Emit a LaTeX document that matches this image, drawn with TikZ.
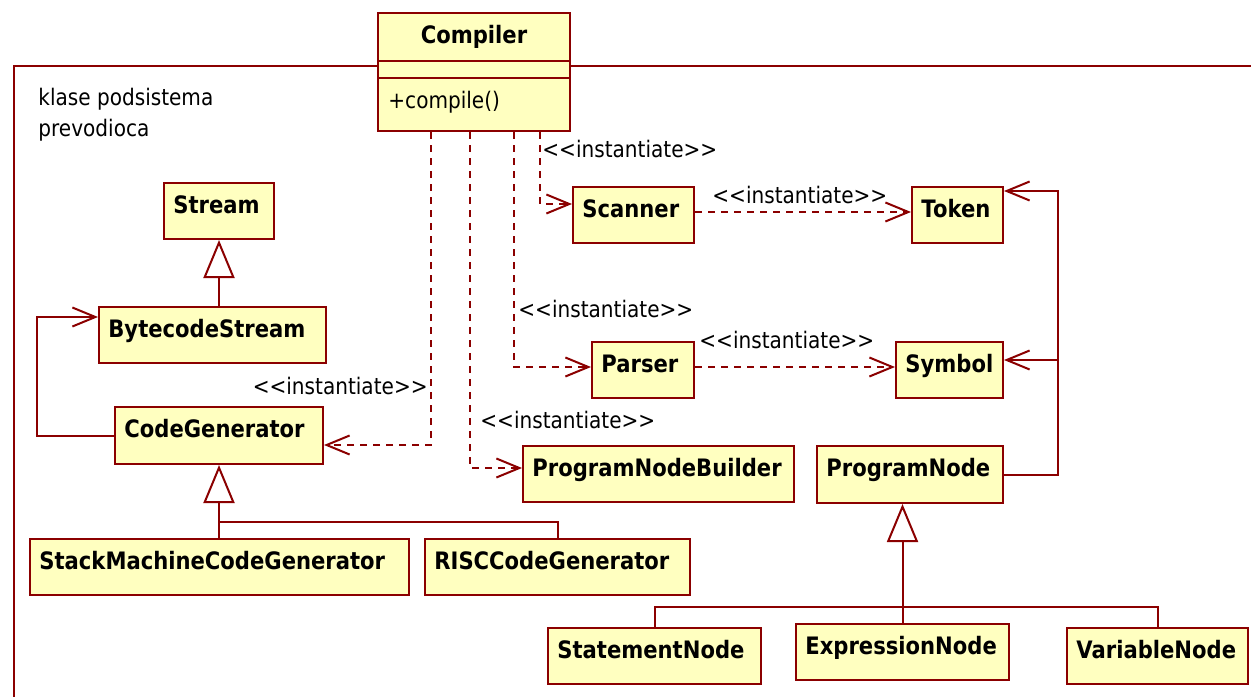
\documentclass[tikz,border=0pt]{standalone}
\usepackage{fontspec}
\setmainfont{DejaVu Sans}[FakeStretch=0.88]
\usetikzlibrary{arrows.meta,calc}
\definecolor{umlred}{HTML}{8B0000}
\definecolor{umlfill}{HTML}{FFFFC0}
\newcommand\instlabel{<\kern0pt<instantiate>\kern0pt>}
\tikzset{
  umlbox/.style={draw=umlred, fill=umlfill, line width=1pt, rectangle, inner sep=0pt, anchor=north west},
  nametext/.style={anchor=base west, inner sep=0pt, font=\fontsize{12}{14}\selectfont\bfseries},
  plaintext/.style={anchor=base west, inner sep=0pt, font=\fontsize{11.4}{13}\selectfont},
  umlline/.style={draw=umlred, line width=1pt},
  depend/.style={umlline, dash pattern=on 3.5pt off 3pt, -{Straight Barb[length=11.5pt,width=9.5pt]}},
  assoc/.style={umlline, -{Straight Barb[length=11.5pt,width=9.5pt]}},
  gen/.style={umlline, -{Triangle[open,length=19pt,width=15.5pt,fill=white]}},
}
\newcommand\ubox[6]{%
  \node[umlbox, minimum width=#4*0.5pt, minimum height=#5*0.5pt] (#1) at (#2,#3) {};
  \node[nametext] (#1-t) at ($(#1.north west)+(10,31)$) {#6};
}
\begin{document}
\begin{tikzpicture}[x=0.5pt,y=-0.5pt]
\useasboundingbox (0,0) rectangle (1251,696);
% package frame
\draw[umlline] (14,700) -- (14,66) -- (1260,66);
\node[plaintext] (pk1) at (38,105) {klase podsistema};
\node[plaintext] (pk2) at (38,136) {prevodioca};
% Compiler
\node[umlbox, minimum width=96pt, minimum height=59pt] (compiler) at (377,12) {};
\node[nametext, anchor=base] (compiler-t) at ($(compiler.north)+(0,31)$) {Compiler};
\draw[umlline] ($(compiler.north west)+(0,49)$) -- ($(compiler.north east)+(0,49)$);
\draw[umlline] ($(compiler.north west)+(0,66)$) -- ($(compiler.north east)+(0,66)$);
\node[plaintext] (compiler-op) at ($(compiler.north west)+(11,96)$) {+compile()};
% classes
\ubox{stream}{163}{182}{110}{56}{Stream}
\ubox{bytecode}{98}{306}{227}{56}{BytecodeStream}
\ubox{codegen}{114}{406}{208}{57}{CodeGenerator}
\ubox{stackm}{29}{538}{379}{56}{StackMachineCodeGenerator}
\ubox{risc}{424}{538}{265}{56}{RISCCodeGenerator}
\ubox{scanner}{572}{186}{121}{56}{Scanner}
\ubox{parser}{591}{341}{102}{56}{Parser}
\ubox{pnb}{522}{445}{271}{56}{ProgramNodeBuilder}
\ubox{token}{911}{186}{91}{56}{Token}
\ubox{symbol}{895}{341}{107}{56}{Symbol}
\ubox{prognode}{816}{445}{186}{57}{ProgramNode}
\ubox{stmt}{547}{627}{213}{56}{StatementNode}
\ubox{expr}{795}{623}{213}{56}{ExpressionNode}
\ubox{var}{1066}{627}{181}{56}{VariableNode}
% dependencies from Compiler
\draw[depend] (compiler.south -| 431,0) |- (codegen.east |- 0,445);
\draw[depend] (compiler.south -| 470,0) |- (pnb.west |- 0,468);
\draw[depend] (compiler.south -| 514,0) |- (parser.west |- 0,367);
\draw[depend] (compiler.south -| 540,0) |- (scanner.west |- 0,204);
\draw[depend] (scanner.east |- 0,212) -- (token.west |- 0,212);
\draw[depend] (parser.east |- 0,367) -- (symbol.west |- 0,367);
\node[plaintext] (l1) at (542,157) {\instlabel};
\node[plaintext] (l2) at (518,317) {\instlabel};
\node[plaintext] (l3) at (480,428) {\instlabel};
\node[plaintext, anchor=base east] (l4) at (428,394) {\instlabel};
\node[plaintext] (l5) at (712,203) {\instlabel};
\node[plaintext] (l6) at (699,348) {\instlabel};
% associations
\draw[assoc] (prognode.east |- 0,475) -| (1058,191) -- (token.east |- 0,191);
\draw[assoc] (1058,360) -- (symbol.east |- 0,360);
\draw[assoc] (codegen.west) -| (37,317) -- (bytecode.west |- 0,317);
% generalizations
\draw[gen] (bytecode.north -| stream.south) -- (stream.south);
\draw[gen] (stackm.north -| codegen.south) -- (codegen.south);
\draw[umlline] (codegen.south |- 0,522) -| (risc.north);
\draw[gen] (expr.north) -- (prognode.south -| expr.north);
\draw[umlline] (stmt.north) |- (var.north |- 0,607) -- (var.north);
\end{tikzpicture}
\end{document}
